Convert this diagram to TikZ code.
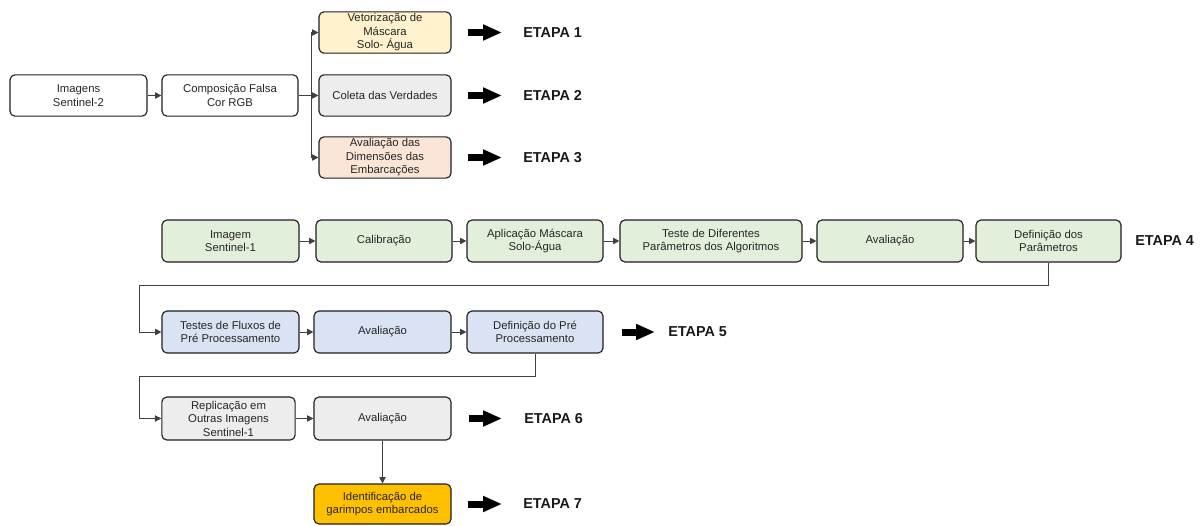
\documentclass[tikz,border=0pt]{standalone}
\usepackage{fontspec}
\setmainfont{Liberation Sans}
\usetikzlibrary{arrows.meta}
\definecolor{cyel}{RGB}{255,242,204}
\definecolor{cgry}{RGB}{237,237,237}
\definecolor{cpch}{RGB}{251,229,214}
\definecolor{cgrn}{RGB}{226,239,218}
\definecolor{cblu}{RGB}{218,227,243}
\definecolor{cgld}{RGB}{255,192,0}
\definecolor{cline}{RGB}{64,64,64}
\definecolor{cedge}{RGB}{30,30,30}
\begin{document}
\begin{tikzpicture}[x=0.75pt,y=-0.75pt,
 box/.style={draw=cedge, line width=0.85pt, rounded corners=3.75pt, minimum width=102.75pt, minimum height=31pt, align=center, inner xsep=2pt, inner ysep=1pt, font=\fontsize{8.5}{10.1}\selectfont, text=black!85},
 conn/.style={draw=cline, line width=0.7pt, -{Triangle[length=4.8pt,width=4.8pt]}},
 big/.style={draw=black, line width=5.25pt, -{Triangle[length=14.25pt,width=11.25pt]}},
 etapa/.style={anchor=west, inner sep=0pt, font=\fontsize{10.8}{12}\selectfont\bfseries, text=black!90}
]
\useasboundingbox (0,0) rectangle (1203,525);

% Row 1
\node[box] (s2) at (78.5,95.5) {Imagens\\Sentinel-2};
\node[box, minimum width=102pt] (comp) at (230,95.5) {Composição Falsa\\Cor RGB};
\node[box, fill=cyel, minimum width=99pt] (vet) at (385,32.5) {Vetorização de\\Máscara\\Solo- Água};
\node[box, fill=cgry, minimum width=99pt] (col) at (385,95.5) {Coleta das Verdades};
\node[box, fill=cpch, minimum width=99pt] (dim) at (385,157.5) {Avaliação das\\Dimensões das\\Embarcações};
\coordinate (br) at (311,95.5);
\draw[conn] (s2.east) -- (comp.west);
\draw[conn] (comp.east) -- (col.west);
\draw[conn] (br) |- (vet.west);
\draw[conn] (br) |- (dim.west);
\node[etapa] (e1) at (523,32.5) {ETAPA 1};
\node[etapa] (e2) at (523,95.5) {ETAPA 2};
\node[etapa] (e3) at (523,157.5) {ETAPA 3};
\draw[big] ([xshift=12pt]vet.east) -- ([xshift=-15.75pt]e1.west);
\draw[big] ([xshift=12pt]col.east) -- ([xshift=-15.75pt]e2.west);
\draw[big] ([xshift=12pt]dim.east) -- ([xshift=-15.75pt]e3.west);

% Row 2
\node[box, fill=cgrn, minimum height=31.5pt] (s1) at (230.5,241) {Imagem\\Sentinel-1};
\node[box, fill=cgrn, minimum height=31.5pt, minimum width=102pt] (cal) at (384,241) {Calibração};
\node[box, fill=cgrn, minimum height=31.5pt, minimum width=102pt] (apl) at (535,241) {Aplicação Máscara\\Solo-Água};
\node[box, fill=cgrn, minimum height=31.5pt, minimum width=136.5pt] (tes) at (711,241) {Teste de Diferentes\\Parâmetros dos Algoritmos};
\node[box, fill=cgrn, minimum height=31.5pt, minimum width=109.5pt] (av1) at (890,241) {Avaliação};
\node[box, fill=cgrn, minimum height=31.5pt, minimum width=108.75pt] (def) at (1048.5,241) {Definição dos\\Parâmetros};
\node[etapa] (e4) at (1135,241) {ETAPA 4};
\draw[conn] (s1.east) -- (cal.west);
\draw[conn] (cal.east) -- (apl.west);
\draw[conn] (apl.east) -- (tes.west);
\draw[conn] (tes.east) -- (av1.west);
\draw[conn] (av1.east) -- (def.west);

% Row 3
\node[box, fill=cblu, minimum height=31.5pt] (tf) at (230.5,332) {Testes de Fluxos de\\Pré Processamento};
\node[box, fill=cblu, minimum height=31.5pt] (av2) at (382.5,332) {Avaliação};
\node[box, fill=cblu, minimum height=31.5pt, minimum width=102pt] (dp) at (535,332) {Definição do Pré\\Processamento};
\node[etapa] (e5) at (668,332) {ETAPA 5};
\coordinate (c1) at (139,285);
\draw[conn] (def.south) |- (c1) |- (tf.west);
\draw[conn] (tf.east) -- (av2.west);
\draw[conn] (av2.east) -- (dp.west);
\draw[big] ([xshift=13.5pt]dp.east) -- ([xshift=-9.75pt]e5.west);

% Row 4
\node[box, fill=cgry, minimum height=32.25pt, minimum width=100pt] (rep) at (228.5,418.5) {Replicação em\\Outras Imagens\\Sentinel-1};
\node[box, fill=cgry, minimum height=32.25pt] (av3) at (382.5,418.5) {Avaliação};
\node[etapa] (e6) at (524,418.5) {ETAPA 6};
\coordinate (c2) at (139,376);
\draw[conn] (dp.south) |- (c2) |- (rep.west);
\draw[conn] (rep.east) -- (av3.west);
\draw[big] ([xshift=12.75pt]av3.east) -- ([xshift=-16.5pt]e6.west);

% Row 5
\node[box, fill=cgld, minimum height=30pt] (idg) at (382.5,504) {Identificação de\\garimpos embarcados};
\node[etapa] (e7) at (523,504) {ETAPA 7};
\draw[conn] (av3.south) -- (idg.north);
\draw[big] ([xshift=12pt]idg.east) -- ([xshift=-15.75pt]e7.west);
\end{tikzpicture}
\end{document}
